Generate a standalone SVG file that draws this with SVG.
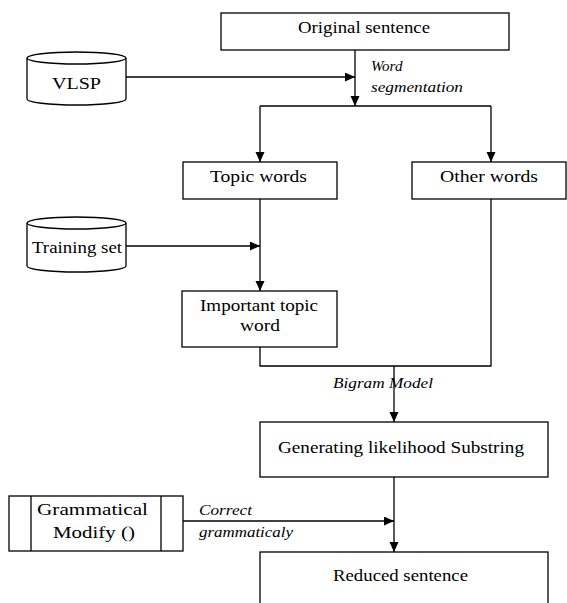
<svg xmlns="http://www.w3.org/2000/svg" width="567" height="603" viewBox="0 0 567 603" font-family="Liberation Serif, Times New Roman, Times, serif">
<style>
.box{fill:#fff;stroke:#000;stroke-width:1.3}
.ln{fill:none;stroke:#000;stroke-width:1.3}
.t{font-size:17px;fill:#000}
.i{font-size:15px;font-style:italic;fill:#000}
</style>
<defs>
<marker id="ah" markerUnits="userSpaceOnUse" markerWidth="10" markerHeight="10" refX="10" refY="4.5" orient="auto">
<path d="M0,0 L10,4.5 L0,9 z" fill="#000"/>
</marker>
</defs>
<rect width="567" height="603" fill="#fff"/>
<g id="connectors">
<line class="ln" x1="355" y1="50" x2="355" y2="106" marker-end="url(#ah)"/>
<line class="ln" x1="126" y1="77" x2="355" y2="77" marker-end="url(#ah)"/>
<line class="ln" x1="260" y1="106" x2="491" y2="106"/>
<line class="ln" x1="260" y1="106" x2="260" y2="162" marker-end="url(#ah)"/>
<line class="ln" x1="491" y1="106" x2="491" y2="162" marker-end="url(#ah)"/>
<line class="ln" x1="260" y1="199" x2="260" y2="291" marker-end="url(#ah)"/>
<line class="ln" x1="126" y1="246" x2="260" y2="246" marker-end="url(#ah)"/>
<polyline class="ln" points="260,347 260,366 491,366 491,199"/>
<line class="ln" x1="394" y1="366" x2="394" y2="422" marker-end="url(#ah)"/>
<line class="ln" x1="394" y1="477" x2="394" y2="552" marker-end="url(#ah)"/>
<line class="ln" x1="183" y1="521" x2="394" y2="521" marker-end="url(#ah)"/>
<text class="i" x="371" y="71">Word</text>
<text class="i" x="371" y="92" textLength="92" lengthAdjust="spacingAndGlyphs">segmentation</text>
<text class="i" x="333" y="388" textLength="100" lengthAdjust="spacingAndGlyphs">Bigram Model</text>
<text class="i" x="199" y="515" textLength="53" lengthAdjust="spacingAndGlyphs">Correct</text>
<text class="i" x="199" y="537" textLength="94" lengthAdjust="spacingAndGlyphs">grammaticaly</text>
</g>
<g id="original">
<rect class="box" x="221" y="13" width="288" height="37"/>
<text class="t" x="298" y="33" textLength="132" lengthAdjust="spacingAndGlyphs">Original sentence</text>
</g>
<g id="vlsp">
<path class="box" d="M27,58 A49.5,6 0 0 1 126,58 L126,99 A49.5,6 0 0 1 27,99 Z"/>
<path class="ln" d="M27,58 A49.5,6 0 0 0 126,58"/>
<text class="t" x="52" y="89" textLength="49" lengthAdjust="spacingAndGlyphs">VLSP</text>
</g>
<g id="topic">
<rect class="box" x="183" y="162" width="154" height="37"/>
<text class="t" x="210" y="182" textLength="97" lengthAdjust="spacingAndGlyphs">Topic words</text>
</g>
<g id="other">
<rect class="box" x="412" y="162" width="154" height="37"/>
<text class="t" x="440" y="182" textLength="98" lengthAdjust="spacingAndGlyphs">Other words</text>
</g>
<g id="training">
<path class="box" d="M27,223 A49.5,6 0 0 1 126,223 L126,266 A49.5,6 0 0 1 27,266 Z"/>
<path class="ln" d="M27,223 A49.5,6 0 0 0 126,223"/>
<text class="t" x="32" y="253" textLength="90" lengthAdjust="spacingAndGlyphs">Training set</text>
</g>
<g id="important">
<rect class="box" x="182" y="291" width="155" height="56"/>
<text class="t" x="200" y="311" textLength="118" lengthAdjust="spacingAndGlyphs">Important topic</text>
<text class="t" x="240" y="331" textLength="40" lengthAdjust="spacingAndGlyphs">word</text>
</g>
<g id="generating">
<rect class="box" x="260" y="422" width="288" height="55"/>
<text class="t" x="278" y="453" textLength="246" lengthAdjust="spacingAndGlyphs">Generating likelihood Substring</text>
</g>
<g id="grammatical">
<rect class="box" x="9" y="496" width="174" height="55"/>
<line class="ln" x1="31" y1="496" x2="31" y2="551"/>
<line class="ln" x1="161" y1="496" x2="161" y2="551"/>
<text class="t" x="37" y="515" textLength="111" lengthAdjust="spacingAndGlyphs">Grammatical</text>
<text class="t" x="53" y="538" textLength="82" lengthAdjust="spacingAndGlyphs">Modify ()</text>
</g>
<g id="reduced">
<rect class="box" x="260" y="552" width="288" height="60"/>
<text class="t" x="333" y="581" textLength="135" lengthAdjust="spacingAndGlyphs">Reduced sentence</text>
</g>
</svg>
